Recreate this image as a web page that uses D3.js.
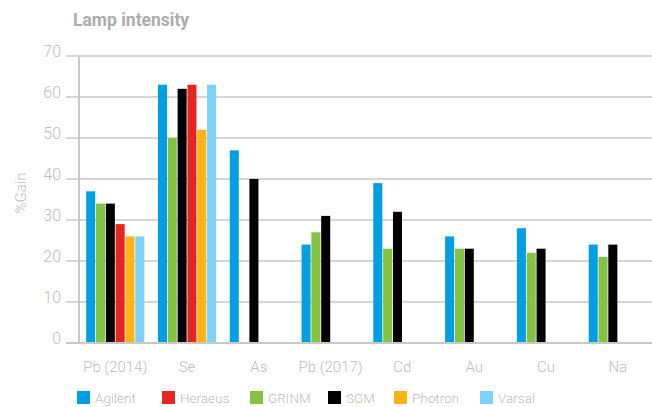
<!DOCTYPE html>
<html><head><meta charset="utf-8">
<script src="https://cdn.jsdelivr.net/npm/d3@7"></script>
<style>
html,body{margin:0;padding:0;background:#fff;}
svg{display:block;font-family:Roboto, "Noto Sans", sans-serif;}
</style></head>
<body>
<script>
const categories = ["Pb (2014)", "Se", "As", "Pb (2017)", "Cd", "Au", "Cu", "Na"];
const legendOrder = ["Agilent", "Heraeus", "GRINM", "SGM", "Photron", "Varsal"];
const slotOrder = ["Agilent", "GRINM", "SGM", "Heraeus", "Photron", "Varsal"];
const colors = {Agilent:"#009fe3", Heraeus:"#e52521", GRINM:"#84c241", SGM:"#000000", Photron:"#fbb415", Varsal:"#7dd3f7"};
const Agilent = [37, 63, 47, 24, 39, 26, 28, 24];
const Heraeus = [29, 63, null, null, null, null, null, null];
const GRINM   = [34, 50, null, 27, 23, 23, 22, 21];
const SGM     = [34, 62, 40, 31, 32, 23, 23, 24];
const Photron = [26, 52, null, null, null, null, null, null];
const Varsal  = [26, 63, null, null, null, null, null, null];
const yTicks = [0, 10, 20, 30, 40, 50, 60, 70];
const series = {Agilent, Heraeus, GRINM, SGM, Photron, Varsal};

const W = 652, H = 407;
const svg = d3.select("body").append("svg").attr("width", W).attr("height", H);

const x0 = d3.scaleBand().domain(categories).range([79, 654]).paddingInner(0.19).paddingOuter(0.1);
const x1 = d3.scaleBand().domain(slotOrder).range([0, x0.bandwidth()]).paddingInner(0.08);
const y = d3.scaleLinear().domain([0, 70]).range([343, 56]);

const grid = "#c8c8c8", txt = "#bdbdbd";

// gridlines
svg.append("g").selectAll("line").data(yTicks.filter(t => t > 0)).join("line")
  .attr("x1", 66).attr("x2", W).attr("y1", d => y(d)).attr("y2", d => y(d))
  .attr("stroke", grid).attr("stroke-width", 1.5);

// y tick labels
svg.append("g").selectAll("text").data(yTicks).join("text")
  .attr("x", 61).attr("y", d => y(d) + 1).attr("text-anchor", "end")
  .attr("fill", txt).attr("font-size", 16).attr("font-weight", 300).text(d => d);

// vertical axis
svg.append("line").attr("x1", 79).attr("x2", 79).attr("y1", y(70)).attr("y2", y(0))
  .attr("stroke", grid).attr("stroke-width", 2);

// bars
const groups = svg.append("g").selectAll("g").data(categories).join("g")
  .attr("transform", d => `translate(${x0(d)},0)`);
groups.selectAll("rect")
  .data((c, i) => slotOrder.map(k => ({k, v: series[k][i]})).filter(d => d.v != null))
  .join("rect")
  .attr("x", d => x1(d.k)).attr("width", x1.bandwidth())
  .attr("y", d => y(d.v)).attr("height", d => y(0) - y(d.v))
  .attr("fill", d => colors[d.k]);

// baseline
svg.append("line").attr("x1", 66).attr("x2", W).attr("y1", y(0)).attr("y2", y(0))
  .attr("stroke", grid).attr("stroke-width", 2);

// category labels
svg.append("g").selectAll("text").data(categories).join("text")
  .attr("x", d => x0(d) + x0.bandwidth() / 2).attr("y", 372).attr("text-anchor", "middle")
  .attr("fill", txt).attr("font-size", 15).attr("font-weight", 300).text(d => d);

// title
svg.append("text").attr("x", 73).attr("y", 26).attr("fill", "#adadad")
  .attr("font-size", 17.5).attr("font-weight", 700).text("Lamp intensity");

// y axis title
svg.append("text").attr("transform", "translate(26,193) rotate(-90)").attr("text-anchor", "middle")
  .attr("fill", txt).attr("font-size", 15).attr("font-weight", 300).text("%Gain");

// legend
const legendX = [77, 162, 250, 328, 394, 480];
const lg = svg.append("g").selectAll("g").data(legendOrder).join("g")
  .attr("transform", (d, i) => `translate(${legendX[i]},391)`);
lg.append("rect").attr("width", 13).attr("height", 13).attr("fill", d => colors[d]);
lg.append("text").attr("x", 18).attr("y", 12).attr("fill", txt)
  .attr("font-size", 13.5).attr("font-weight", 300).text(d => d);
</script>
</body></html>
